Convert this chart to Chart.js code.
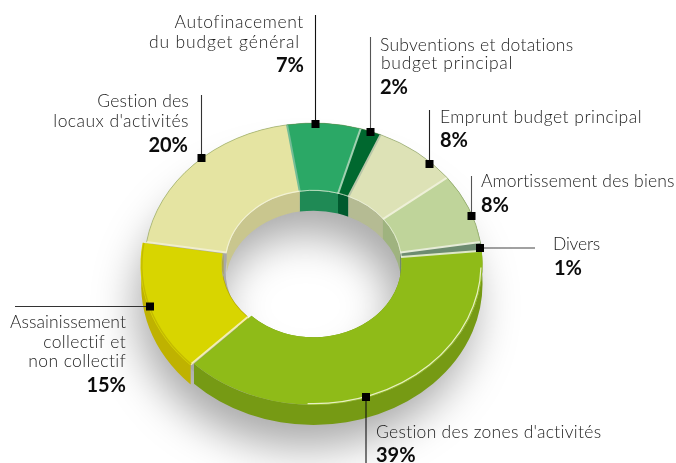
<!DOCTYPE html>
<html><head><meta charset="utf-8">
<style>html,body{margin:0;padding:0;background:#fff;overflow:hidden}canvas{display:block}</style>
<script src="https://cdn.jsdelivr.net/npm/chart.js@4"></script>
</head><body><canvas id="c" width="676" height="463"></canvas>
<script>
const categories = ["Autofinacement du budget général","Subventions et dotations budget principal","Emprunt budget principal","Amortissement des biens","Divers","Gestion des zones d'activités","Assainissement collectif et non collectif","Gestion des locaux d'activités"];
const values = [7,2,8,8,1,39,15,20];
const topColors = ["#2ba866","#00682f","#dde2b6","#bfd49a","#6d8c70","#8fbb18","#d8d500","#e5e4a2"];
const wallInner = ["#1f8a55","#005a2e","#b5bb93","#9fb37f","#5a7a5c","#6f9413","#b5aa00","#c9c68e"];
const wallOuter = ["#1f8a55","#005a2e","#b5bb93","#9fb37f","#5a7a5c","#769a14","#bfb200","#c9c68e"];
const edgeColors = ["#74bd96","#9fd0b0","#b9c6a8","#eef0d8","#e6ecd8","#dfe8c8","#f2efb0","#f0eecb"];
const offsets = [0,0,0,0,0,0,14,0];
const labels = [
 {a:"right",x:304,y:28,w:129,t:"Autofinacement"},{a:"right",x:300,y:48,w:151,t:"du budget général"},{a:"right",x:304,y:72,t:"7%",b:1},
 {a:"left",x:380,y:51,w:194,t:"Subventions et dotations"},{a:"left",x:381,y:69,w:132,t:"budget principal"},{a:"left",x:380,y:94,t:"2%",b:1},
 {a:"left",x:440,y:123,w:202,t:"Emprunt budget principal"},{a:"left",x:440,y:147,t:"8%",b:1},
 {a:"left",x:481,y:187,w:194,t:"Amortissement des biens"},{a:"left",x:481,y:212,t:"8%",b:1},
 {a:"left",x:553,y:250,w:47,t:"Divers"},{a:"left",x:554,y:275,t:"1%",b:1},
 {a:"left",x:376,y:438,w:226,t:"Gestion des zones d'activités"},{a:"left",x:376,y:462,t:"39%",b:1},
 {a:"right",x:126,y:328,w:116,t:"Assainissement"},{a:"right",x:126,y:348,w:83,t:"collectif et"},{a:"right",x:126,y:367,w:98,t:"non collectif"},{a:"right",x:126,y:392,t:"15%",b:1},
 {a:"right",x:189,y:107,w:92,t:"Gestion des"},{a:"right",x:189,y:127,w:136,t:"locaux d'activités"},{a:"right",x:188,y:152,t:"20%",b:1}
];
const leaders = [[315.5,15,315.5,124,"#111"],[370.5,37,370.5,132,"#555"],[429.5,110,429.5,164,"#222"],[471.5,176,471.5,216,"#555"],[535,248,480,248,"#444"],[366,463,366,397,"#111"],[15,306.5,150,306.5,"#333"],[201.5,95,201.5,158,"#333"]];
const CY = 264, K = 0.834, DEPTH = 20;

function geom(chart){
  return chart.getDatasetMeta(0).data.map((el,i)=>{
    const off=(el.options.offset||0)/4, mid=(el.startAngle+el.endAngle)/2;
    return {a:el.startAngle,b:el.endAngle,ri:el.innerRadius,ro:el.outerRadius,x:el.x+Math.cos(mid)*off,y:CY+Math.sin(mid)*off*K,i};
  });
}
function wall(ctx,g,r,color){
  ctx.beginPath();
  ctx.ellipse(g.x,g.y,r,r*K,0,g.a,g.b);
  ctx.ellipse(g.x,g.y+DEPTH,r,r*K,0,g.b,g.a,true);
  ctx.closePath();ctx.fillStyle=color;ctx.fill();
}
const pseudo3d = {
  id:"pseudo3d",
  beforeDatasetsDraw(chart){
    const ctx=chart.ctx, gs=geom(chart), g0=gs[0];
    ctx.save();
    ctx.shadowColor="#a8a8a8";ctx.shadowBlur=44;ctx.shadowOffsetX=-8;ctx.shadowOffsetY=34;
    ctx.beginPath();
    ctx.ellipse(g0.x,CY+8,g0.ro,g0.ro*K,0,0,Math.PI*2);
    ctx.ellipse(g0.x,CY+8,g0.ri,g0.ri*K,0,0,Math.PI*2,true);
    ctx.fillStyle="#a8a8a8";ctx.fill("evenodd");
    ctx.restore();
    gs.forEach(g=>wall(ctx,g,g.ri,wallInner[g.i]));
    gs.forEach(g=>wall(ctx,g,g.ro,wallOuter[g.i]));
    const el=chart.getDatasetMeta(0).data[0];
    ctx.save();
    ctx.translate(0,CY);ctx.scale(1,K);ctx.translate(0,-el.y);
  },
  afterDatasetsDraw(chart){
    const ctx=chart.ctx, gs=geom(chart);
    ctx.restore();
    ctx.save();ctx.lineCap="butt";
    gs.forEach(g=>{
      const c=Math.cos(g.a),s=Math.sin(g.a);
      ctx.beginPath();
      ctx.moveTo(g.x+c*g.ri,g.y+s*g.ri*K);
      ctx.lineTo(g.x+c*g.ro,g.y+s*g.ro*K);
      ctx.strokeStyle=edgeColors[g.i];ctx.lineWidth=2;ctx.stroke();
    });
    const lime=gs[5], beige=gs[7], yel=gs[6];
    ctx.beginPath();ctx.ellipse(lime.x,lime.y,lime.ro-1.5,(lime.ro-1.5)*K,0,lime.a+0.12,lime.b-0.75);
    ctx.strokeStyle="#e8efc4";ctx.lineWidth=1.2;ctx.stroke();
    ctx.beginPath();ctx.ellipse(beige.x,beige.y,beige.ri+0.5,(beige.ri+0.5)*K,0,beige.a,beige.b);
    ctx.strokeStyle="#f3f2d2";ctx.lineWidth=1.2;ctx.stroke();
    ctx.beginPath();ctx.ellipse(yel.x,yel.y,yel.ro-0.7,(yel.ro-0.7)*K,0,yel.a,yel.b);
    ctx.strokeStyle="#c4bb00";ctx.lineWidth=1.4;ctx.stroke();
    gs.slice(0,5).forEach(g=>{ctx.beginPath();ctx.ellipse(g.x,g.y,g.ri+0.5,(g.ri+0.5)*K,0,g.a,g.b);ctx.strokeStyle="rgba(240,245,225,.7)";ctx.lineWidth=1;ctx.stroke();});
    gs.slice(0,5).concat([beige]).forEach(g=>{ctx.beginPath();ctx.ellipse(g.x,g.y,g.ro,g.ro*K,0,g.a,g.b);ctx.strokeStyle="rgba(110,140,70,.45)";ctx.lineWidth=1;ctx.stroke();});
    ctx.restore();
  },
  afterDraw(chart){
    const ctx=chart.ctx;
    ctx.save();
    leaders.forEach(l=>{
      ctx.beginPath();ctx.moveTo(l[0],l[1]);ctx.lineTo(l[2],l[3]);
      ctx.strokeStyle=l[4];ctx.lineWidth=1.1;ctx.stroke();
      ctx.fillStyle="#000";ctx.fillRect(l[2]-4,l[3]-4,8,8);
    });
    ctx.textBaseline="alphabetic";
    labels.forEach(l=>{
      ctx.textAlign=l.a;
      ctx.font=(l.b?"bold 20px":"300 17.5px")+" Lato, 'Open Sans', sans-serif";
      ctx.letterSpacing="0px";
      if(l.w){const m=ctx.measureText(l.t).width;ctx.letterSpacing=((l.w-m)/l.t.length).toFixed(3)+"px";}
      ctx.fillStyle=l.b?"#0c0c0c":"#1c1c1c";
      ctx.fillText(l.t,l.x,l.y);
    });
    ctx.restore();
  }
};
new Chart(document.getElementById("c"),{
  type:"doughnut",
  data:{labels:categories,datasets:[{data:values,backgroundColor:topColors,borderWidth:0,offset:offsets,clip:false}]},
  options:{
    responsive:false,animation:false,cutout:"52%",rotation:-9,
    layout:{padding:{left:137.5,right:186.5,top:55,bottom:56}},
    plugins:{legend:{display:false},tooltip:{enabled:false}},
    events:[]
  },
  plugins:[pseudo3d]
});
</script></body></html>
